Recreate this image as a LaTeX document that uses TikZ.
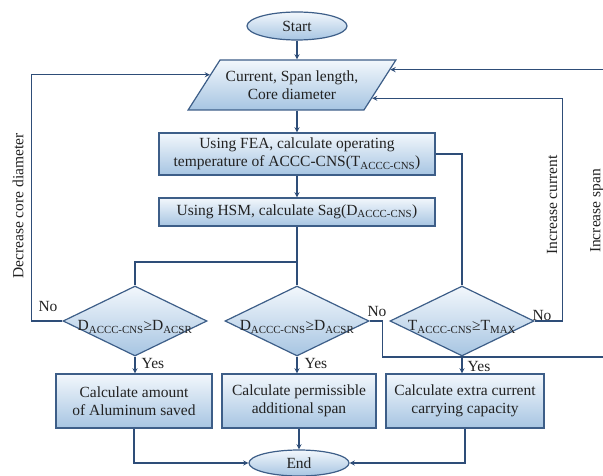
\documentclass[tikz,border=0pt]{standalone}
\usepackage{fontspec}
\setmainfont{Liberation Serif}
\usepackage{tikz}
\usetikzlibrary{shapes, arrows, calc, positioning}
\definecolor{flowline}{HTML}{2E4D78}
\definecolor{boxedge}{HTML}{3D5E88}
\definecolor{boxtop}{HTML}{F2F7FC}
\definecolor{boxbot}{HTML}{A7C5E2}
\definecolor{labeltext}{HTML}{222222}
\newcommand{\flowfont}{\fontsize{15.5}{18.5}\selectfont}
\newcommand{\subtxt}[1]{\textsubscript{#1}}
\newcommand{\lowtxt}[1]{\raisebox{-6pt}[\height][\depth]{#1}}

\begin{document}
\begin{tikzpicture}[x=1pt,y=-1pt,
  every node/.append style={font=\flowfont,text=labeltext},
  blk/.style={draw=boxedge,line width=1.2pt,top color=boxtop,bottom color=boxbot,align=center,inner sep=0pt},
  proc/.style={blk,rectangle,minimum width=#1},
  term/.style={blk,ellipse,minimum width=100pt},
  dec/.style={blk,diamond,aspect=2,minimum width=144pt,minimum height=70pt},
  arr/.style={-stealth,flowline,line width=1.3pt},
  lnk/.style={flowline,line width=1.3pt}]
\useasboundingbox (0,0) rectangle (603,476);
% start and input
\node[term,minimum height=28pt] (start) at (297,26) {Start};
\node[blk,trapezium,trapezium left angle=45,trapezium right angle=135,trapezium stretches=true,
  minimum width=208pt,minimum height=50pt] (para) at (292,85) {Current, Span length,\\Core diameter};
% calculations
\node[proc=276pt,minimum height=42pt] (fea) at (297,154) {Using FEA, calculate operating\\temperature of ACCC-CNS(T\subtxt{ACCC-CNS})};
\node[proc=276pt,minimum height=28pt] (hsm) at (297,212) {Using HSM, calculate Sag(D\subtxt{ACCC-CNS})};
% checks
\node[dec] (ldia) at (135,321) {\lowtxt{D\subtxt{ACCC-CNS}≥D\subtxt{ACSR}}};
\node[dec] (mdia) at (297,321) {\lowtxt{D\subtxt{ACCC-CNS}≥D\subtxt{ACSR}}};
\node[dec] (rdia) at (462,321) {\lowtxt{T\subtxt{ACCC-CNS}≥T\subtxt{MAX}}};
% results
\node[proc=156pt,minimum height=54pt] (lbox) at (134,401) {Calculate amount\\of Aluminum saved};
\node[proc=154pt,minimum height=54pt] (mbox) at (299,401) {Calculate permissible\\additional span};
\node[proc=158pt,minimum height=54pt] (rbox) at (465,401) {Calculate extra current\\carrying capacity};
\node[term,minimum height=26pt] (end) at (299,463) {End};
% labels
\node (nol) at (48,307) {No};
\node (nom) at (377,312) {No};
\node (nor) at (542,315) {No};
\node (yesl) at (153,363) {Yes};
\node (yesm) at (316,363) {Yes};
\node (yesr) at (479,366) {Yes};
\node[rotate=90] (decr) at (18,206) {Decrease core diameter};
\node[rotate=90] (incc) at (552,205) {Increase current};
\node[rotate=90] (incs) at (597,211) {Increase span};
% connectors
\coordinate (split) at ($(hsm.south)!0.6!(mdia.north)$);
\coordinate (pl) at ($(para.top left corner)!0.3!(para.bottom left corner)$);
\coordinate (pr1) at ($(para.top right corner)!0.2!(para.bottom right corner)$);
\coordinate (pr2) at ($(para.top right corner)!0.76!(para.bottom right corner)$);
\coordinate (spanturn) at (612,357);
\draw[arr] (start.south) -- (start.south |- para.north);
\draw[arr] (para.south -| fea.north) -- (fea.north);
\draw[arr] (fea) -- (hsm);
\draw[lnk] (hsm) -- (mdia);
\draw[lnk] (split) -| (ldia.north);
\draw[lnk] (fea.east) -| (rdia.north);
\draw[arr] (ldia.south) -- (ldia.south |- lbox.north);
\draw[arr] (mdia.south) -- (mdia.south |- mbox.north);
\draw[arr] (rdia.south) -- (rdia.south |- rbox.north);
\draw[arr] (lbox.south) |- (end.west);
\draw[arr] (mbox) -- (end);
\draw[arr] (rbox.south) |- (end.east);
% loops back to input
\draw[arr] (ldia.west) -- ++(-31,0) |- (pl);
\draw[arr] (rdia.east) -- ++(28,0) |- (pr2);
\draw[arr] (mdia.east) -- ++(13,0) |- (spanturn) |- (pr1);
\end{tikzpicture}
\end{document}
